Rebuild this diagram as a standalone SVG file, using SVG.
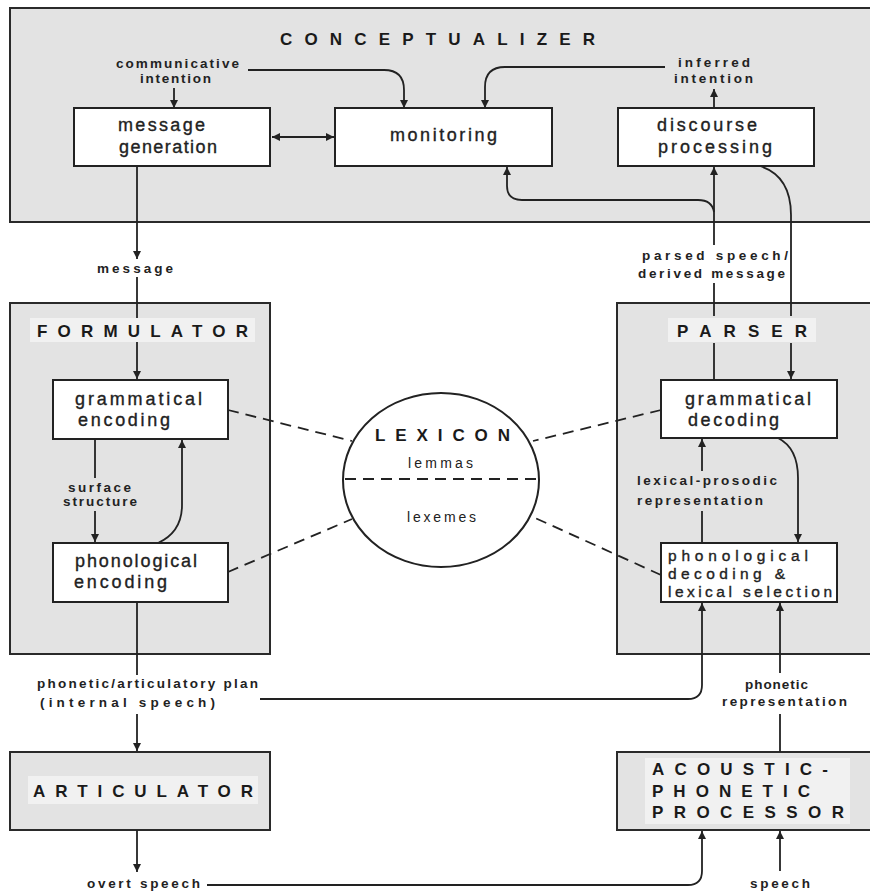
<svg xmlns="http://www.w3.org/2000/svg" width="870" height="892" viewBox="0 0 870 892">
<style>
.panel{fill:#e3e3e3;stroke:#2a2a2a;stroke-width:2}
.band{fill:#f1f1f1;stroke:none}
.box{fill:#fff;stroke:#222;stroke-width:2}
.title{font-family:"Liberation Sans",Arial,sans-serif;font-weight:bold;font-size:17px;fill:#1a1a1a}
.btxt{font-family:"Liberation Sans",Arial,sans-serif;font-size:18px;fill:#222;stroke:#222;stroke-width:0.35}
.btxs{font-family:"Liberation Sans",Arial,sans-serif;font-size:15.5px;fill:#222;stroke:#222;stroke-width:0.35}
.lbl{font-family:"Liberation Sans",Arial,sans-serif;font-weight:bold;font-size:13.5px;fill:#222}
.lex{font-family:"Liberation Sans",Arial,sans-serif;font-size:14px;fill:#222}
.ln{fill:none;stroke:#222;stroke-width:1.8}
.dash{fill:none;stroke:#222;stroke-width:1.8;stroke-dasharray:11 7}
</style>
<defs>
<marker id="ah" viewBox="0 0 10 10" refX="10" refY="5" markerWidth="9" markerHeight="8" orient="auto-start-reverse" markerUnits="userSpaceOnUse">
<path d="M0,0 L10,5 L0,10 z" fill="#222"/>
</marker>
</defs>
<rect width="870" height="892" fill="#fff"/>

<g id="conceptualizer">
<rect class="panel" x="10" y="8" width="870" height="214"/>
<text class="title" x="280" y="45" textLength="315" lengthAdjust="spacing">CONCEPTUALIZER</text>
</g>
<g id="message-generation">
<rect class="box" x="74" y="108" width="196" height="58"/>
<text class="btxt" x="118" y="131" textLength="87" lengthAdjust="spacing">message</text>
<text class="btxt" x="119" y="153" textLength="98" lengthAdjust="spacing">generation</text>
</g>
<g id="monitoring">
<rect class="box" x="335" y="108" width="217" height="58"/>
<text class="btxt" x="390" y="141" textLength="107" lengthAdjust="spacing">monitoring</text>
</g>
<g id="discourse-processing">
<rect class="box" x="618" y="108" width="196" height="58"/>
<text class="btxt" x="657" y="131" textLength="100" lengthAdjust="spacing">discourse</text>
<text class="btxt" x="658" y="153" textLength="114" lengthAdjust="spacing">processing</text>
</g>

<g id="formulator">
<rect class="panel" x="10" y="303" width="260" height="351"/>
<rect class="band" x="30" y="318" width="225" height="24"/>
<text class="title" x="37" y="337" textLength="211" lengthAdjust="spacing">FORMULATOR</text>
</g>
<g id="grammatical-encoding">
<rect class="box" x="53" y="380" width="175" height="59"/>
<text class="btxt" x="75" y="405" textLength="127" lengthAdjust="spacing">grammatical</text>
<text class="btxt" x="78" y="426" textLength="92" lengthAdjust="spacing">encoding</text>
</g>
<g id="phonological-encoding">
<rect class="box" x="53" y="543" width="175" height="59"/>
<text class="btxt" x="75" y="567" textLength="122" lengthAdjust="spacing">phonological</text>
<text class="btxt" x="74" y="588" textLength="93" lengthAdjust="spacing">encoding</text>
</g>

<g id="parser">
<rect class="panel" x="617" y="303" width="263" height="351"/>
<rect class="band" x="668" y="318" width="148" height="24"/>
<text class="title" x="677" y="337" textLength="130" lengthAdjust="spacing">PARSER</text>
</g>
<g id="grammatical-decoding">
<rect class="box" x="661" y="380" width="176" height="58"/>
<text class="btxt" x="685" y="405" textLength="126" lengthAdjust="spacing">grammatical</text>
<text class="btxt" x="688" y="426" textLength="91" lengthAdjust="spacing">decoding</text>
</g>
<g id="phonological-decoding">
<rect class="box" x="661" y="543" width="176" height="59"/>
<text class="btxs" x="668" y="561" textLength="140" lengthAdjust="spacing">phonological</text>
<text class="btxs" x="668" y="579" textLength="117" lengthAdjust="spacing">decoding &amp;</text>
<text class="btxs" x="668" y="597" textLength="164" lengthAdjust="spacing">lexical selection</text>
</g>

<g id="lexicon">
<ellipse cx="441" cy="480" rx="98" ry="87" fill="#fff" stroke="#222" stroke-width="2"/>
<line class="dash" x1="345" y1="479" x2="539" y2="479"/>
<text class="title" x="375" y="441" textLength="135" lengthAdjust="spacing">LEXICON</text>
<text class="lex" x="408" y="468" textLength="65" lengthAdjust="spacing">lemmas</text>
<text class="lex" x="407" y="522" textLength="69" lengthAdjust="spacing">lexemes</text>
</g>

<g id="articulator">
<rect class="panel" x="10" y="752" width="260" height="78"/>
<rect class="band" x="28" y="776" width="230" height="28"/>
<text class="title" x="33" y="797" textLength="220" lengthAdjust="spacing">ARTICULATOR</text>
</g>

<g id="acoustic-phonetic-processor">
<rect class="panel" x="617" y="752" width="263" height="78"/>
<rect class="band" x="645" y="758" width="205" height="66"/>
<text class="title" x="652" y="775" textLength="176" lengthAdjust="spacing">ACOUSTIC-</text>
<text class="title" x="652" y="797" textLength="158" lengthAdjust="spacing">PHONETIC</text>
<text class="title" x="652" y="818" textLength="192" lengthAdjust="spacing">PROCESSOR</text>
</g>

<g id="labels">
<text class="lbl" x="116" y="68" textLength="123" lengthAdjust="spacing">communicative</text>
<text class="lbl" x="140" y="83" textLength="71" lengthAdjust="spacing">intention</text>
<text class="lbl" x="678" y="67" textLength="72" lengthAdjust="spacing">inferred</text>
<text class="lbl" x="674" y="83" textLength="79" lengthAdjust="spacing">intention</text>
<text class="lbl" x="97" y="273" textLength="76" lengthAdjust="spacing">message</text>
<text class="lbl" x="642" y="260" textLength="146" lengthAdjust="spacing">parsed speech/</text>
<text class="lbl" x="638" y="278" textLength="147" lengthAdjust="spacing">derived message</text>
<text class="lbl" x="68" y="492" textLength="63" lengthAdjust="spacing">surface</text>
<text class="lbl" x="63" y="506" textLength="74" lengthAdjust="spacing">structure</text>
<text class="lbl" x="637" y="485" textLength="140" lengthAdjust="spacing">lexical-prosodic</text>
<text class="lbl" x="637" y="505" textLength="126" lengthAdjust="spacing">representation</text>
<text class="lbl" x="37" y="688" textLength="221" lengthAdjust="spacing">phonetic/articulatory plan</text>
<text class="lbl" x="40" y="707" textLength="175" lengthAdjust="spacing">(internal speech)</text>
<text class="lbl" x="745" y="689" textLength="63" lengthAdjust="spacing">phonetic</text>
<text class="lbl" x="722" y="706" textLength="125" lengthAdjust="spacing">representation</text>
<text class="lbl" x="87" y="888" textLength="113" lengthAdjust="spacing">overt speech</text>
<text class="lbl" x="750" y="888" textLength="60" lengthAdjust="spacing">speech</text>
</g>

<g id="connectors">
<path class="ln" d="M174 88 V108" marker-end="url(#ah)"/>
<path class="ln" d="M248 70 H384 Q404 70 404 90 V108" marker-end="url(#ah)"/>
<path class="ln" d="M272 137 H334" marker-start="url(#ah)" marker-end="url(#ah)"/>
<path class="ln" d="M665 67 H505 Q485 67 485 87 V108" marker-end="url(#ah)"/>
<path class="ln" d="M714 108 V89" marker-end="url(#ah)"/>
<path class="ln" d="M714 245 V167" marker-end="url(#ah)"/>
<path class="ln" d="M714 212 Q712 200 698 200 H522 Q507 200 507 186 V167" marker-end="url(#ah)"/>
<path class="ln" d="M714 283 V316"/>
<path class="ln" d="M714 343 V380"/>
<path class="ln" d="M760 166 Q791 176 791 215 V316"/>
<path class="ln" d="M791 343 V379" marker-end="url(#ah)"/>
<path class="ln" d="M137 166 V259" marker-end="url(#ah)"/>
<path class="ln" d="M137 277 V318"/>
<path class="ln" d="M137 342 V379" marker-end="url(#ah)"/>
<path class="ln" d="M95 439 V478"/>
<path class="ln" d="M95 511 V542" marker-end="url(#ah)"/>
<path class="ln" d="M158 543 Q182 532 182 505 V440" marker-end="url(#ah)"/>
<path class="ln" d="M137 602 V675"/>
<path class="ln" d="M137 714 V751" marker-end="url(#ah)"/>
<path class="ln" d="M260 699 H688 Q702 699 702 685 V603" marker-end="url(#ah)"/>
<path class="ln" d="M137 830 V872" marker-end="url(#ah)"/>
<path class="ln" d="M207 885 H688 Q702 885 702 871 V831" marker-end="url(#ah)"/>
<path class="ln" d="M780 871 V831" marker-end="url(#ah)"/>
<path class="ln" d="M780 752 V714"/>
<path class="ln" d="M780 673 V603" marker-end="url(#ah)"/>
<path class="ln" d="M702 543 V511"/>
<path class="ln" d="M702 471 V439" marker-end="url(#ah)"/>
<path class="ln" d="M778 438 Q798 448 798 478 V542" marker-end="url(#ah)"/>
<path class="dash" d="M228 410 L352 441"/>
<path class="dash" d="M228 572 L352 519"/>
<path class="dash" d="M661 410 L533 441"/>
<path class="dash" d="M661 575 L533 517"/>
</g>
</svg>
